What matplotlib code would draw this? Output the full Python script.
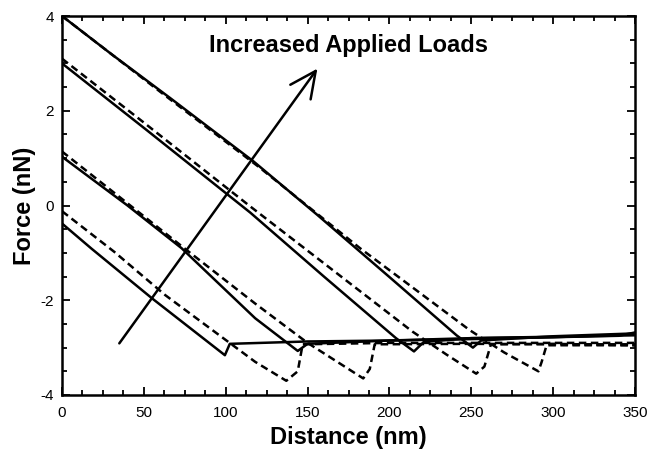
import matplotlib.pyplot as plt
from matplotlib.ticker import MultipleLocator

plt.rcParams['font.family'] = ['Liberation Sans', 'DejaVu Sans']
plt.rcParams['axes.unicode_minus'] = False

# solid curves: distance (nm), force (nN)
s1_x = [0, 18, 55, 99.5, 102.5, 150, 200, 250, 300, 340, 350]
s1_y = [-0.38, -0.91, -1.96, -3.16, -2.92, -2.87, -2.85, -2.80, -2.78, -2.75, -2.68]
s2_x = [0, 40, 73, 118, 144, 150, 200, 250, 300, 350]
s2_y = [1.03, 0.0, -0.90, -2.38, -3.07, -2.92, -2.85, -2.82, -2.78, -2.72]
s3_x = [0, 50.7, 115, 160, 204, 215, 221, 250, 300, 350]
s3_y = [3.0, 1.62, -0.15, -1.50, -2.80, -3.08, -2.88, -2.80, -2.77, -2.74]
s4_x = [0, 30, 66, 117, 156, 200, 241, 251, 256, 300, 350]
s4_y = [4.0, 3.2, 2.27, 0.93, -0.20, -1.51, -2.74, -3.0, -2.85, -2.76, -2.70]

# dashed curves
d1_x = [0, 32, 63, 118, 137, 144, 147, 200, 250, 300, 350]
d1_y = [-0.12, -0.98, -1.89, -3.30, -3.70, -3.50, -2.93, -2.90, -2.90, -2.90, -2.90]
d2_x = [0, 75, 118, 150, 184, 188, 191, 250, 300, 350]
d2_y = [1.14, -0.91, -2.07, -2.90, -3.65, -3.45, -2.93, -2.92, -2.93, -2.93]
d3_x = [0, 50, 115, 214, 235, 253, 258, 262, 300, 350]
d3_y = [3.1, 1.75, -0.02, -2.66, -3.15, -3.55, -3.40, -2.93, -2.92, -2.95]
d4_x = [0, 60, 120, 182, 249, 270, 291, 293, 296, 320, 350]
d4_y = [4.0, 2.40, 0.82, -0.90, -2.63, -3.10, -3.50, -3.30, -2.95, -2.95, -2.95]

arrow_start = (35, -2.91)
arrow_end = (156, 2.89)

fig = plt.figure(figsize=(6.51, 4.51), dpi=100)
ax = fig.add_axes([62/651, 1 - 395/451, 573/651, 379/451])

dash = (0, (3.0, 1.8))
for xs, ys in [(s1_x, s1_y), (s2_x, s2_y), (s3_x, s3_y), (s4_x, s4_y)]:
    ax.plot(xs, ys, color='black', lw=1.8)
for xs, ys in [(d1_x, d1_y), (d2_x, d2_y), (d3_x, d3_y), (d4_x, d4_y)]:
    ax.plot(xs, ys, color='black', lw=1.8, linestyle=dash)

ax.annotate('', xy=arrow_end, xytext=arrow_start,
            arrowprops=dict(arrowstyle='->,head_length=1.25,head_width=0.6',
                            mutation_scale=15, lw=1.8, color='black',
                            shrinkA=0, shrinkB=0))
ax.text(175, 3.38, 'Increased Applied Loads', fontsize=17, fontweight='bold',
        ha='center', va='center')

ax.set_xlim(0, 350)
ax.set_ylim(-4, 4)
ax.xaxis.set_major_locator(MultipleLocator(50))
ax.xaxis.set_minor_locator(MultipleLocator(12.5))
ax.yaxis.set_major_locator(MultipleLocator(2))
ax.yaxis.set_minor_locator(MultipleLocator(0.5))
ax.tick_params(which='both', direction='in', top=True, right=True, width=1.3)
ax.tick_params(which='major', length=6, labelsize=11)
ax.tick_params(which='minor', length=3.5)
ax.tick_params(axis='x', pad=8)
ax.tick_params(axis='y', pad=6)
for sp in ax.spines.values():
    sp.set_linewidth(1.8)

ax.set_xlabel('Distance (nm)', fontsize=17, fontweight='bold', labelpad=4)
ax.set_ylabel('Force (nN)', fontsize=17, fontweight='bold', labelpad=3)

plt.savefig('out.png', dpi=100)
